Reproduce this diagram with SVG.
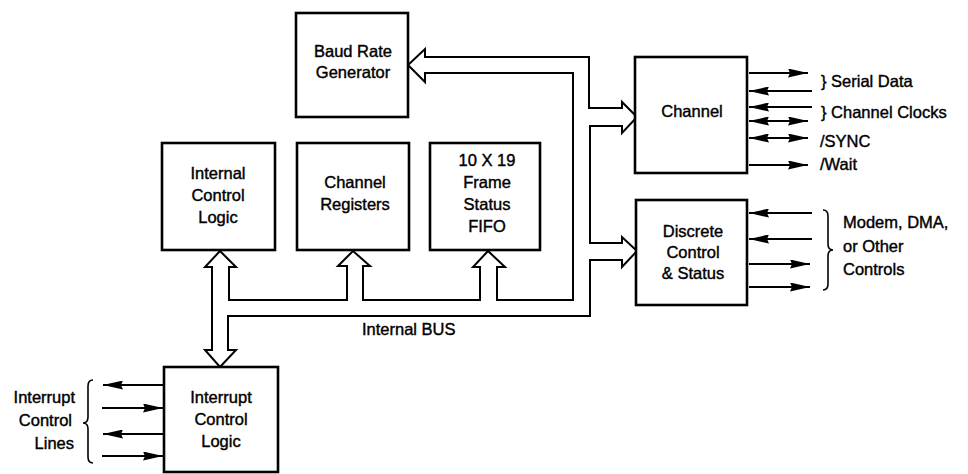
<svg xmlns="http://www.w3.org/2000/svg" width="968" height="474" viewBox="0 0 968 474">
<style>
.box{fill:#fff;stroke:#000;stroke-width:2.6}
.bus{fill:#fff;stroke:#000;stroke-width:2;stroke-linejoin:miter}
.ln{fill:none;stroke:#000;stroke-width:2}
.br{fill:none;stroke:#000;stroke-width:1.6}
text{font-family:"Liberation Sans",Arial,Helvetica,sans-serif;font-size:16.5px;font-weight:normal;fill:#000;stroke:#000;stroke-width:0.4}
.c{text-anchor:middle}
.e{text-anchor:end}
</style>
<defs>
<marker id="ah" markerUnits="userSpaceOnUse" markerWidth="20" markerHeight="9" refX="20" refY="4.5" orient="auto-start-reverse" viewBox="0 0 20 9">
<path d="M0,0 L20,4.5 L0,9 L2,4.5 Z" fill="#000"/>
</marker>
</defs>
<rect width="968" height="474" fill="#fff"/>
<g id="connectors">
<path id="bus" class="bus" d="M425,57 L589,57 L589,108 L622,108 L622,102 L637,117 L622,133 L622,126 L590,126 L590,243 L622,243 L622,237 L637,251 L622,267 L622,260 L590,260 L590,316 L228,316 L228,350 L236,350 L220,367 L205,350 L212,350 L212,267 L205,267 L220,251 L236,267 L229,267 L229,300 L347,300 L347,266 L338,266 L353,251 L370,266 L363,266 L363,300 L480,300 L480,267 L473,267 L488,251 L505,267 L497,267 L497,300 L573,300 L573,73 L425,73 L425,82 L408,65 L425,49 Z"/>
<path class="ln" d="M749,73 H808" marker-end="url(#ah)"/>
<path class="ln" d="M812,91 H749" marker-end="url(#ah)"/>
<path class="ln" d="M812,107 H749" marker-end="url(#ah)"/>
<path class="ln" d="M749,121 H808" marker-start="url(#ah)" marker-end="url(#ah)"/>
<path class="ln" d="M749,138 H808" marker-start="url(#ah)" marker-end="url(#ah)"/>
<path class="ln" d="M749,165 H808" marker-end="url(#ah)"/>
<path class="ln" d="M812,213 H749" marker-end="url(#ah)"/>
<path class="ln" d="M812,239 H749" marker-end="url(#ah)"/>
<path class="ln" d="M749,264 H810" marker-end="url(#ah)"/>
<path class="ln" d="M749,287 H810" marker-end="url(#ah)"/>
<path class="ln" d="M163,385 H103" marker-end="url(#ah)"/>
<path class="ln" d="M102,408 H163" marker-end="url(#ah)"/>
<path class="ln" d="M163,434 H103" marker-end="url(#ah)"/>
<path class="ln" d="M102,456 H163" marker-end="url(#ah)"/>
<path class="br" d="M823,210 Q828,210 828,216 L828,244 Q828,250 833,250 Q828,250 828,256 L828,284 Q828,290 823,290"/>
<path class="br" d="M93,380 Q88,380 88,386 L88,417 Q88,423 83,423 Q88,423 88,429 L88,457 Q88,463 93,463"/>
</g>
<g id="baud">
<rect class="box" x="296" y="13" width="112" height="104"/>
<text class="c" x="353" y="57">Baud Rate</text>
<text class="c" x="353" y="78">Generator</text>
</g>
<g id="icl">
<rect class="box" x="162" y="143" width="113" height="107"/>
<text class="c" x="218" y="179">Internal</text>
<text class="c" x="218" y="201">Control</text>
<text class="c" x="218" y="223">Logic</text>
</g>
<g id="chreg">
<rect class="box" x="297" y="143" width="112" height="107"/>
<text class="c" x="355" y="188">Channel</text>
<text class="c" x="355" y="210">Registers</text>
</g>
<g id="fifo">
<rect class="box" x="430" y="143" width="110" height="107"/>
<text class="c" x="487" y="166">10 X 19</text>
<text class="c" x="487" y="188">Frame</text>
<text class="c" x="487" y="210">Status</text>
<text class="c" x="487" y="232">FIFO</text>
</g>
<g id="channel">
<rect class="box" x="635" y="57" width="112" height="116"/>
<text class="c" x="692" y="117">Channel</text>
</g>
<g id="discrete">
<rect class="box" x="636" y="200" width="111" height="105"/>
<text class="c" x="693" y="237">Discrete</text>
<text class="c" x="693" y="258">Control</text>
<text class="c" x="693" y="279">&amp; Status</text>
</g>
<g id="interrupt">
<rect class="box" x="164" y="367" width="114" height="105"/>
<text class="c" x="221" y="403">Interrupt</text>
<text class="c" x="221" y="425">Control</text>
<text class="c" x="221" y="447">Logic</text>
</g>
<g id="labels">
<text x="362" y="335">Internal BUS</text>
<text x="821" y="87">} Serial Data</text>
<text x="821" y="118">} Channel Clocks</text>
<text x="820" y="147">/SYNC</text>
<text x="820" y="170">/Wait</text>
<text x="843" y="228">Modem, DMA,</text>
<text x="843" y="252">or Other</text>
<text x="843" y="275">Controls</text>
<text class="e" x="75" y="403">Interrupt</text>
<text class="e" x="72" y="426">Control</text>
<text class="e" x="74" y="449">Lines</text>
</g>
</svg>
